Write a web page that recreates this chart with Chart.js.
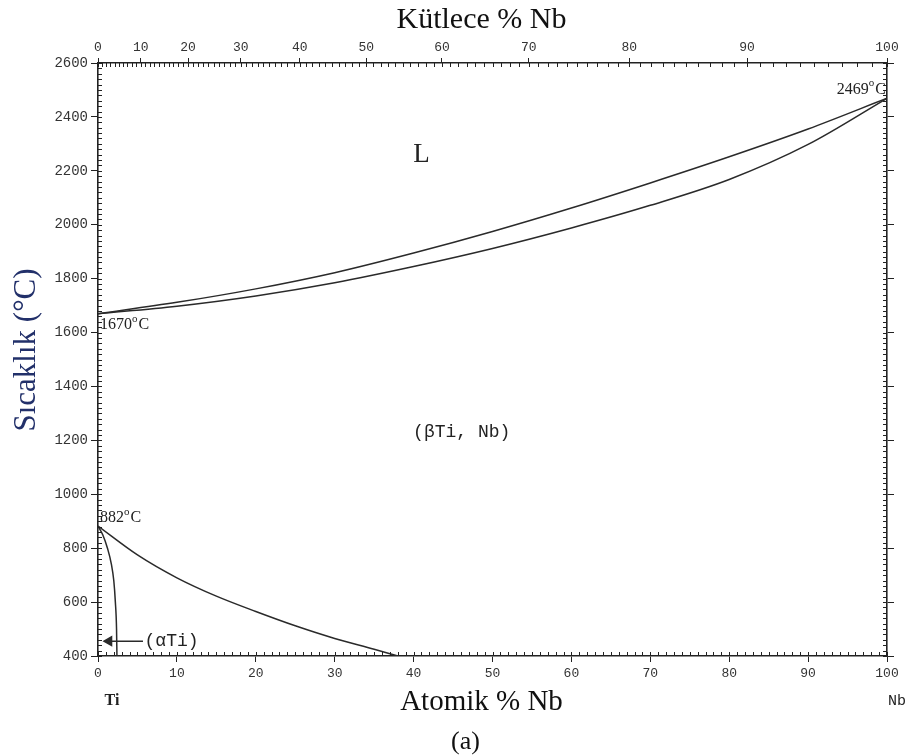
<!DOCTYPE html>
<html lang="tr">
<head>
<meta charset="UTF-8">
<title>Ti-Nb faz diyagramı</title>
<style>
  html, body { margin: 0; padding: 0; background: #fff; }
  canvas { display: block; }
</style>
</head>
<body>
<canvas id="phaseChart" width="919" height="756"></canvas>
<script src="https://cdn.jsdelivr.net/npm/chart.js@4"></script>
<script>
// Ti-Nb phase boundaries (at.% Nb, temperature in C)
const liquidusAt = [0, 10, 20, 30, 40, 50, 60, 70, 80, 90, 100];
const liquidusT  = [1670, 1712, 1762, 1822, 1895, 1975, 2062, 2155, 2252, 2355, 2469];
const solidusAt  = [0, 10, 20, 30, 40, 50, 60, 70, 80, 90, 100];
const solidusT   = [1670, 1698, 1736, 1785, 1845, 1912, 1988, 2072, 2168, 2298, 2469];
const betaTransusAt = [0, 5, 10, 15, 20, 25, 30, 35, 38];
const betaTransusT  = [882, 775, 690, 622, 565, 512, 465, 425, 400];
const alphaSolvusAt = [0, 0.6, 1.2, 1.7, 2.0, 2.2, 2.35, 2.4];
const alphaSolvusT  = [882, 850, 800, 740, 680, 600, 500, 400];
const arrowAt = [5.7, 1.4];
const arrowT  = [455, 455];

// axes
const atTickStep = 10;
const wtTickLabels = [0, 10, 20, 30, 40, 50, 60, 70, 80, 90, 100];
const tempMin = 400, tempMax = 2600, tempStep = 200;

const M_TI = 47.867, M_NB = 92.906;
function wtToAt(w) {
    if (w >= 100) return 100;
    const nb = w / M_NB, ti = (100 - w) / M_TI;
    return 100 * nb / (nb + ti);
}

function pts(xs, ys) {
    return xs.map((x, i) => ({ x: x, y: ys[i] }));
}

const lineColor = '#2a2a2a';
const axisColor = '#222';
const tickFont = { family: "'Liberation Mono', monospace", size: 13 };

// small ticks + text labels
const decorPlugin = {
    id: 'decor',
    afterDraw(chart) {
        const ctx = chart.ctx;
        const a = chart.chartArea;
        const sx = chart.scales.x, sy = chart.scales.y;
        ctx.save();
        ctx.strokeStyle = axisColor;
        ctx.lineWidth = 1;
        ctx.beginPath();
        for (let v = 0; v <= 100; v++) {
            const px = Math.round(sx.getPixelForValue(v)) + 0.5;
            ctx.moveTo(px, a.bottom); ctx.lineTo(px, a.bottom - 4);
        }
        for (let w = 0; w <= 100; w++) {
            const px = Math.round(sx.getPixelForValue(wtToAt(w))) + 0.5;
            ctx.moveTo(px, a.top); ctx.lineTo(px, a.top + 4);
        }
        for (let t = tempMin; t <= tempMax; t += 20) {
            const py = Math.round(sy.getPixelForValue(t)) + 0.5;
            ctx.moveTo(a.left, py); ctx.lineTo(a.left + 4, py);
            ctx.moveTo(a.right, py); ctx.lineTo(a.right - 4, py);
        }
        ctx.stroke();

        const serif = "'Liberation Serif', 'Times New Roman', serif";
        const mono = "'Liberation Mono', monospace";
        const midX = (a.left + a.right) / 2 - 9;

        ctx.textAlign = 'center';
        ctx.textBaseline = 'middle';
        ctx.fillStyle = '#111';
        ctx.font = '30px ' + serif;
        ctx.fillText('Kütlece % Nb', midX - 2, 20);
        ctx.font = '29px ' + serif;
        ctx.fillText('Atomik % Nb', midX - 2, a.bottom + 46);
        ctx.font = '26px ' + serif;
        ctx.fillText('(a)', midX - 18, a.bottom + 86);

        ctx.save();
        ctx.translate(27, 350);
        ctx.rotate(-Math.PI / 2);
        ctx.fillStyle = '#22306a';
        ctx.font = '31px ' + serif;
        ctx.fillText('Sıcaklık (°C)', 0, 0);
        ctx.restore();

        ctx.fillStyle = '#222';
        ctx.font = 'bold 16px ' + serif;
        ctx.fillText('Ti', a.left + 14, a.bottom + 45);
        ctx.font = '15px ' + mono;
        ctx.fillText('Nb', a.right + 10, a.bottom + 45);

        // phase field labels
        ctx.font = '27px ' + serif;
        ctx.fillText('L', sx.getPixelForValue(41), sy.getPixelForValue(2259));
        ctx.font = '18px ' + mono;
        ctx.fillText('(βTi, Nb)', sx.getPixelForValue(46.1), sy.getPixelForValue(1232));
        ctx.textAlign = 'left';
        ctx.fillText('(αTi)', sx.getPixelForValue(5.9), sy.getPixelForValue(455));

        // melting / transformation points
        function degLabel(num, x, y, alignRight) {
            ctx.font = '16px ' + serif;
            const wn = ctx.measureText(num).width;
            ctx.font = '11px ' + serif;
            const wo = ctx.measureText('o').width;
            ctx.font = '16px ' + serif;
            const wc = ctx.measureText('C').width;
            let x0 = alignRight ? x - (wn + wo + wc + 1) : x;
            ctx.textAlign = 'left';
            ctx.fillText(num, x0, y);
            ctx.font = '11px ' + serif;
            ctx.fillText('o', x0 + wn, y - 6);
            ctx.font = '16px ' + serif;
            ctx.fillText('C', x0 + wn + wo + 1, y);
        }
        degLabel('1670', a.left + 2, sy.getPixelForValue(1670) + 11, false);
        degLabel('2469', a.right - 1, sy.getPixelForValue(2469) - 9, true);
        degLabel('882', a.left + 2, sy.getPixelForValue(882) - 8, false);
        ctx.restore();
    }
};

const baseLine = {
    showLine: true,
    pointRadius: 0,
    borderColor: lineColor,
    borderWidth: 1.5,
    fill: false,
    cubicInterpolationMode: 'monotone'
};

new Chart(document.getElementById('phaseChart').getContext('2d'), {
    type: 'scatter',
    data: {
        datasets: [
            Object.assign({ label: 'Liquidus', data: pts(liquidusAt, liquidusT) }, baseLine),
            Object.assign({ label: 'Solidus', data: pts(solidusAt, solidusT) }, baseLine),
            Object.assign({ label: 'beta transus', data: pts(betaTransusAt, betaTransusT) }, baseLine),
            Object.assign({ label: 'alpha solvus', data: pts(alphaSolvusAt, alphaSolvusT) }, baseLine),
            {
                label: 'arrow',
                data: pts(arrowAt, arrowT),
                showLine: true,
                borderColor: lineColor,
                borderWidth: 1.5,
                pointRadius: [0, 5],
                pointStyle: 'triangle',
                pointRotation: -90,
                pointBackgroundColor: lineColor,
                pointBorderColor: lineColor
            }
        ]
    },
    options: {
        responsive: false,
        animation: false,
        layout: { padding: 0 },
        plugins: { legend: { display: false }, tooltip: { enabled: false } },
        scales: {
            x: {
                type: 'linear', position: 'bottom', min: 0, max: 100,
                ticks: { stepSize: atTickStep, font: tickFont, color: '#333', padding: 4, maxRotation: 0 },
                grid: { drawOnChartArea: false, tickLength: 6, color: axisColor },
                border: { color: axisColor, width: 1.6 },
                afterFit: s => { s.height = 100; }
            },
            x2: {
                type: 'linear', position: 'top', min: 0, max: 100,
                afterBuildTicks: s => { s.ticks = wtTickLabels.map(w => ({ value: wtToAt(w) })); },
                ticks: { callback: (v, i) => wtTickLabels[i], autoSkip: false, font: tickFont, color: '#333', padding: 3, maxRotation: 0 },
                grid: { drawOnChartArea: false, tickLength: 5, color: axisColor },
                border: { color: axisColor, width: 1.6 },
                afterFit: s => { s.height = 63; }
            },
            y: {
                type: 'linear', position: 'left', min: tempMin, max: tempMax,
                ticks: { stepSize: tempStep, callback: v => String(v), font: { family: "'Liberation Mono', monospace", size: 14 }, color: '#333', padding: 3 },
                grid: { drawOnChartArea: false, tickLength: 7, color: axisColor },
                border: { color: axisColor, width: 1.6 },
                afterFit: s => { s.width = 98; }
            },
            y2: {
                type: 'linear', position: 'right', min: tempMin, max: tempMax,
                ticks: { display: false, stepSize: tempStep },
                grid: { drawOnChartArea: false, tickLength: 7, color: axisColor },
                border: { color: axisColor, width: 1.6 },
                afterFit: s => { s.width = 32; }
            }
        }
    },
    plugins: [decorPlugin]
});
</script>
</body>
</html>
